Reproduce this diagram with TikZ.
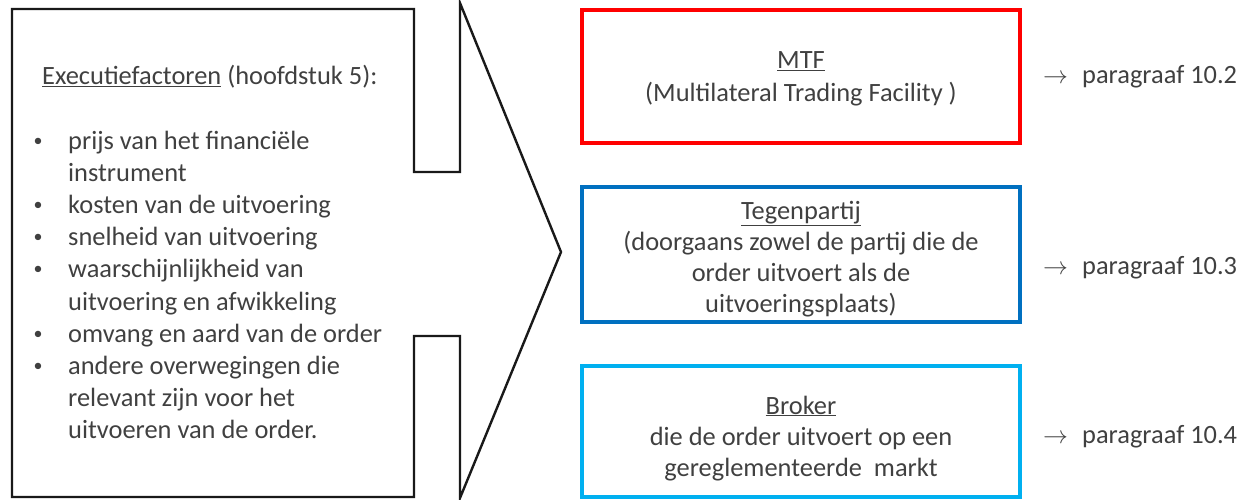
\documentclass[tikz,border=0pt]{standalone}
\usepackage{fontspec}
\setmainfont{Carlito}
\definecolor{txt}{HTML}{404040}
\definecolor{mtfred}{HTML}{FF0000}
\definecolor{tpblue}{HTML}{0070C0}
\definecolor{brblue}{HTML}{00B0F0}
\tikzset{
  lbl/.style={text=txt, font=\fontsize{26.4}{32.2}\selectfont, inner sep=0pt},
  line/.style={lbl, anchor=base west},
  cline/.style={lbl, anchor=base},
  bul/.style={text=txt, font=\fontsize{18}{18}\selectfont, inner sep=0pt, anchor=base},
  catbox/.style={draw=#1, line width=3.5pt, minimum width=438pt, inner sep=0pt},
  para/.style={lbl, anchor=west},
  outline/.style={draw=black!90, line width=2.4pt, line join=miter}
}
\begin{document}
\begin{tikzpicture}[x=1pt,y=-1pt]
\useasboundingbox (0,0) rectangle (1246,500);
% big arrow-shaped outline
\draw[outline] (12,9) -- (414,9) -- (414,172) -- (460,172) -- (460,3) -- (561,252)
  -- (460,498) -- (460,336) -- (414,336) -- (414,497) -- (12,497) -- cycle;
% header
\node[line] (hdr) at (42,85) {\underline{Executiefactoren} (hoofdstuk 5):};
% bullets
\node[bul] (b1) at (38,146) {\textbullet};
\node[line] (l1) at (68,149) {prijs van het financiële};
\node[line] (l2) at (68,181.2) {instrument};
\node[bul] (b2) at (38,210.4) {\textbullet};
\node[line] (l3) at (68,213.4) {kosten van de uitvoering};
\node[bul] (b3) at (38,242.6) {\textbullet};
\node[line] (l4) at (68,245.6) {snelheid van uitvoering};
\node[bul] (b4) at (38,274.8) {\textbullet};
\node[line] (l5) at (68,277.8) {waarschijnlijkheid van};
\node[line] (l6) at (68,310) {uitvoering en afwikkeling};
\node[bul] (b5) at (38,339.2) {\textbullet};
\node[line] (l7) at (68,342.2) {omvang en aard van de order};
\node[bul] (b6) at (38,371.4) {\textbullet};
\node[line] (l8) at (68,374.4) {andere overwegingen die};
\node[line] (l9) at (68,406.6) {relevant zijn voor het};
\node[line] (l10) at (68,438.8) {uitvoeren van de order.};
% category boxes
\node[catbox=mtfred, minimum height=133pt] (mtf) at (801,76.5) {};
\node[catbox=tpblue, minimum height=135pt] (tp) at (801,254.5) {};
\node[catbox=brblue, minimum height=131pt] (br) at (801,431.5) {};
% box texts
\node[cline] (m1) at (801,69) {\underline{MTF}};
\node[cline] (m2) at (801,101.5) {(Multilateral Trading Facility )};
\node[cline] (t1) at (801,219) {\underline{Tegenpartij}};
\node[cline] (t2) at (801,250) {(doorgaans zowel de partij die de};
\node[cline] (t3) at (801,281) {order uitvoert als de};
\node[cline] (t4) at (801,312) {uitvoeringsplaats)};
\node[cline] (k1) at (801,414) {\underline{Broker}};
\node[cline] (k2) at (801,445) {die de order uitvoert op een};
\node[cline] (k3) at (801,476) {gereglementeerde\ \ markt};
% paragraph references
\node[para] (p2) at (1043,77) {\makebox[39pt][l]{$\rightarrow$}paragraaf 10.2};
\node[para] (p3) at (1043,268) {\makebox[39pt][l]{$\rightarrow$}paragraaf 10.3};
\node[para] (p4) at (1043,437) {\makebox[39pt][l]{$\rightarrow$}paragraaf 10.4};
\end{tikzpicture}
\end{document}
